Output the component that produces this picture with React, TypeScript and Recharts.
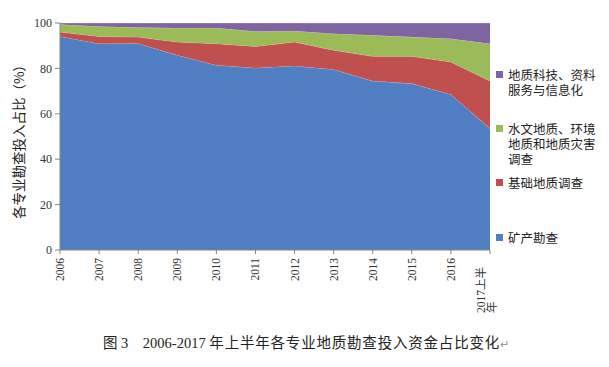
import { AreaChart, Area, XAxis, YAxis, Label } from "recharts";

// 2006 – 2017上半年, share of each type of geological survey investment (%)
const years = ["2006", "2007", "2008", "2009", "2010", "2011", "2012", "2013", "2014", "2015", "2016", "2017上半年"];
const mineral = [94.1, 90.9, 91.0, 85.8, 81.4, 80.2, 81.1, 79.5, 74.4, 73.3, 68.5, 53.5];
const basic = [1.9, 3.2, 2.8, 5.8, 9.5, 9.5, 10.5, 8.5, 10.9, 12.0, 14.3, 20.9];
const hydro = [3.3, 4.4, 4.2, 6.2, 6.9, 6.6, 4.9, 7.3, 9.3, 8.5, 10.3, 16.5];
const tech = [0.7, 1.5, 2.0, 2.2, 2.2, 3.7, 3.5, 4.7, 5.4, 6.2, 6.9, 9.1];
const yTicks = [0, 20, 40, 60, 80, 100];

const series = [
  { key: "mineral", name: "矿产勘查", color: "#4f7ec3" },
  { key: "basic", name: "基础地质调查", color: "#c0504d" },
  { key: "hydro", name: "水文地质、环境地质和地质灾害调查", color: "#9bbb59" },
  { key: "tech", name: "地质科技、资料服务与信息化", color: "#8064a2" },
];

// legend lines, top to bottom (wrapped as in the source figure)
const legendItems = [
  { color: "#8064a2", lines: ["地质科技、资料", "服务与信息化"], top: 67 },
  { color: "#9bbb59", lines: ["水文地质、环境", "地质和地质灾害", "调查"], top: 121 },
  { color: "#c0504d", lines: ["基础地质调查"], top: 175 },
  { color: "#4f7ec3", lines: ["矿产勘查"], top: 230 },
];

const data = years.map((year, i) => ({
  year,
  mineral: mineral[i],
  basic: basic[i],
  hydro: hydro[i],
  tech: tech[i],
}));

const serif = "'Liberation Serif', 'Times New Roman', 'Noto Sans CJK SC', serif";
const cjk = "'Noto Sans CJK SC', sans-serif";
const axisColor = "#868686";

function YearTick(props: any) {
  const { x, y, payload } = props;
  const v: string = payload.value;
  if (v.length > 4) {
    // wrapped label: "2017上半" / "年"
    return (
      <g transform={`translate(${x},${y}) rotate(-90)`}>
        <text x={-55} y={-9.5} textAnchor="start" dominantBaseline="central" fontSize={11.5} fontFamily={serif} fill="#333">
          {v.slice(0, 6)}
        </text>
        <text x={-55} y={1.5} textAnchor="start" dominantBaseline="central" fontSize={11.5} fontFamily={serif} fill="#333">
          {v.slice(6)}
        </text>
      </g>
    );
  }
  return (
    <g transform={`translate(${x},${y}) rotate(-90)`}>
      <text x={0} y={0} textAnchor="end" dominantBaseline="central" fontSize={11.5} fontFamily={serif} fill="#333">
        {v}
      </text>
    </g>
  );
}

export default function App() {
  return (
    <div style={{ position: "absolute", left: 0, top: 0, width: 609, height: 367, background: "#fff" }}>
      <AreaChart width={609} height={367} data={data} margin={{ top: 23, right: 119, bottom: 0, left: 0 }}>
        <XAxis
          dataKey="year"
          height={117}
          interval={0}
          stroke={axisColor}
          tickSize={4}
          tickMargin={4}
          tick={<YearTick />}
        />
        <YAxis
          width={60}
          domain={[0, 100]}
          ticks={yTicks}
          stroke={axisColor}
          tickSize={5}
          tickMargin={3}
          tick={{ fontSize: 12, fontFamily: serif, fill: "#333" }}
        >
          <Label
            content={(p: any) => {
              const vb = p.viewBox || { x: 0, y: 23, height: 227 };
              return (
                <text
                  transform={`translate(${vb.x + 18},${vb.y + vb.height / 2 + 2}) rotate(-90)`}
                  textAnchor="middle"
                  dominantBaseline="central"
                  fontSize={13.5}
                  fontFamily={cjk}
                  fill="#222"
                >
                  各专业勘查投入占比（%）
                </text>
              );
            }}
          />
        </YAxis>
        <YAxis
          yAxisId="r"
          orientation="right"
          width={0}
          domain={[0, 100]}
          ticks={yTicks}
          stroke={axisColor}
          tickSize={3}
          tick={() => <g />}
        />
        {series.map((s) => (
          <Area
            key={s.key}
            type="linear"
            dataKey={s.key}
            name={s.name}
            stackId="a"
            fill={s.color}
            fillOpacity={1}
            stroke="#ffffff"
            strokeOpacity={0.35}
            strokeWidth={0.8}
            isAnimationActive={false}
          />
        ))}
      </AreaChart>

      {legendItems.map((item) => (
        <div key={item.color} style={{ position: "absolute", left: 496, top: item.top, fontFamily: cjk, fontSize: 12.5, lineHeight: "15px", color: "#222" }}>
          <span style={{ position: "absolute", left: 0, top: 4, width: 7, height: 7, background: item.color }} />
          <div style={{ marginLeft: 12, whiteSpace: "nowrap" }}>
            {item.lines.map((l, i) => (
              <span key={l}>
                {i > 0 && <br />}
                {l}
              </span>
            ))}
          </div>
        </div>
      ))}

      <div
        style={{
          position: "absolute",
          left: 103,
          top: 333,
          whiteSpace: "nowrap",
          fontFamily: "'Liberation Serif', 'Noto Sans CJK SC', serif",
          fontSize: 14.5,
          lineHeight: "18px",
          color: "#222",
        }}
      >
        图 3&nbsp;&nbsp;&nbsp;&nbsp;2006-2017 <span style={{ fontFamily: cjk, letterSpacing: 0.8 }}>年上半年各专业地质勘查投入资金占比变化</span>
        <span style={{ color: "#999", fontSize: 11 }}>↵</span>
      </div>
    </div>
  );
}
